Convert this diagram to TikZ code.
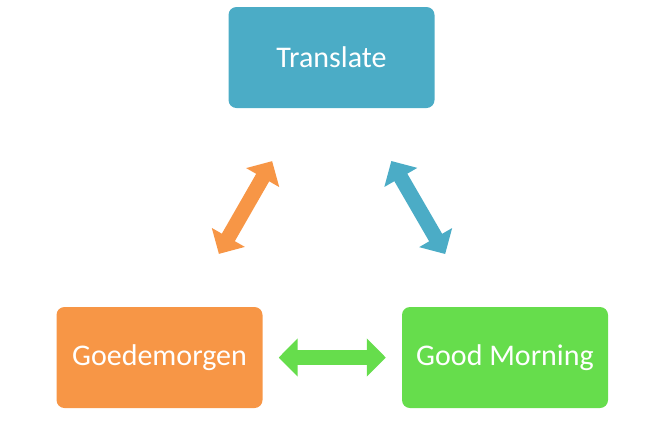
\documentclass[tikz,border=0pt]{standalone}
\usepackage{fontspec}
\setmainfont{Carlito}
\usetikzlibrary{arrows.meta}
\definecolor{transblue}{HTML}{4BACC6}
\definecolor{nlorange}{HTML}{F79646}
\definecolor{engreen}{HTML}{66DD4C}
\begin{document}
\begin{tikzpicture}[x=1pt,y=-1pt,
  stage/.style={rounded corners=8pt,minimum width=206pt,minimum height=101pt,
    text=white,font=\fontsize{30}{36}\selectfont,inner sep=0pt},
  link/.style={line width=15pt,{Triangle[length=19pt,width=37pt]}-{Triangle[length=19pt,width=37pt]}}]
\useasboundingbox (0,0) rectangle (660,440);

\node[stage,fill=transblue] (trans) at (331.5,57.5) {Translate};
\node[stage,fill=nlorange] (goed) at (159.5,357.5) {Goedemorgen};
\node[stage,fill=engreen] (morning) at (505,357.5) {Good Morning};

\draw[link,draw=nlorange,shorten <=61pt,shorten >=61pt] (trans) -- (goed);
\draw[link,draw=transblue,shorten <=61pt,shorten >=61pt] (trans) -- (morning);
\draw[link,draw=engreen,shorten <=16pt,shorten >=16pt] (goed) -- (morning);
\end{tikzpicture}
\end{document}
